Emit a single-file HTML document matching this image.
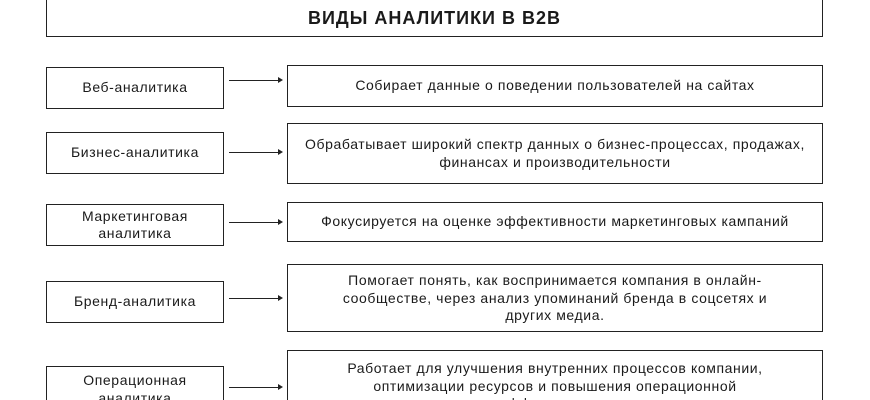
<!DOCTYPE html>
<html><head><meta charset="utf-8"><style>
html,body{margin:0;width:870px;height:400px;overflow:hidden}
body{background:#fff;position:relative;font-family:"Liberation Sans",sans-serif;color:#1a1a1a}
.b{position:absolute;border:1.3px solid #222;box-sizing:border-box;display:flex;align-items:center;justify-content:center;text-align:center;font-size:14px;letter-spacing:0.6px;line-height:17.5px;white-space:nowrap}
.a{position:absolute;left:229px;width:50px;height:1px;background:#222}
.a:after{content:"";position:absolute;right:-4px;top:-3px;border-left:5px solid #222;border-top:3.5px solid transparent;border-bottom:3.5px solid transparent}
</style></head><body>
<div class="b" style="left:46px;top:-10px;width:777px;height:47px;font-weight:bold;font-size:18px;letter-spacing:1px;padding-top:10px">ВИДЫ АНАЛИТИКИ В B2B</div>
<div class="b" style="left:46px;top:67px;width:178px;height:42px">Веб-аналитика</div>
<div class="b" style="left:46px;top:132px;width:178px;height:42px">Бизнес-аналитика</div>
<div class="b" style="left:46px;top:204px;width:178px;height:42px;line-height:17px">Маркетинговая<br>аналитика</div>
<div class="b" style="left:46px;top:281px;width:178px;height:42px">Бренд-аналитика</div>
<div class="b" style="left:46px;top:366px;width:178px;height:50px;align-items:flex-start;padding-top:5px">Операционная<br>аналитика</div>
<div class="b" style="left:287px;top:65px;width:536px;height:42px">Собирает данные о поведении пользователей на сайтах</div>
<div class="b" style="left:287px;top:123px;width:536px;height:61px;align-items:flex-start;padding-top:12px">Обрабатывает широкий спектр данных о бизнес-процессах, продажах,<br>финансах и производительности</div>
<div class="b" style="left:287px;top:202px;width:536px;height:40px">Фокусируется на оценке эффективности маркетинговых кампаний</div>
<div class="b" style="left:287px;top:264px;width:536px;height:68px;align-items:flex-start;padding-top:7px">Помогает понять, как воспринимается компания в онлайн-<br>сообществе, через анализ упоминаний бренда в соцсетях и<br>других медиа.</div>
<div class="b" style="left:287px;top:350px;width:536px;height:70px;align-items:flex-start;padding-top:9px">Работает для улучшения внутренних процессов компании,<br>оптимизации ресурсов и повышения операционной<br>эффективности</div>
<div class="a" style="top:80px"></div>
<div class="a" style="top:152px"></div>
<div class="a" style="top:222px"></div>
<div class="a" style="top:298px"></div>
<div class="a" style="top:387px"></div>
</body></html>
